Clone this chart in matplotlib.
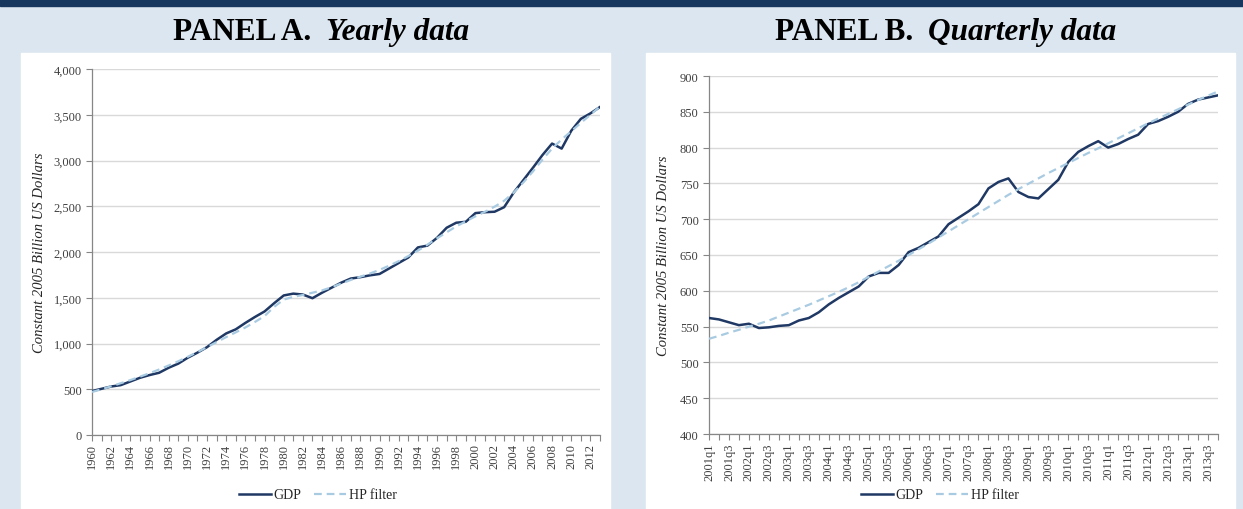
import matplotlib
matplotlib.use("Agg")
import matplotlib.pyplot as plt
from matplotlib.patches import Rectangle
from matplotlib.lines import Line2D
from matplotlib.ticker import StrMethodFormatter

plt.rcParams['font.family'] = ['Liberation Serif', 'DejaVu Serif']

# Panel A: yearly GDP (constant 2005 billion US$) and HP trend
years = list(range(1960, 2014))
gdp_yearly = [480, 505, 530, 545, 585, 625, 655, 680, 735, 780,
              845, 900, 960, 1040, 1110, 1155, 1225, 1290, 1350, 1440,
              1525, 1545, 1535, 1495, 1555, 1610, 1665, 1710, 1725, 1745,
              1760, 1820, 1880, 1940, 2050, 2070, 2155, 2265, 2320, 2330,
              2425, 2435, 2440, 2490, 2650, 2785, 2920, 3060, 3185, 3130,
              3325, 3455, 3515, 3585]
hp_yearly = [470, 500, 532, 566, 600, 637, 675, 716, 760, 806,
             855, 906, 960, 1015, 1070, 1122, 1175, 1235, 1300, 1400,
             1480, 1510, 1530, 1555, 1580, 1615, 1655, 1695, 1730, 1765,
             1805, 1850, 1900, 1955, 2015, 2080, 2150, 2215, 2280, 2335,
             2390, 2440, 2495, 2560, 2650, 2760, 2880, 3010, 3130, 3230,
             3320, 3410, 3500, 3590]

# Panel B: quarterly GDP and HP trend, 2001q1 - 2013q4
quarters = [f"{y}q{q}" for y in range(2001, 2014) for q in range(1, 5)]
gdp_q = [562, 560, 556, 552, 554, 548, 549, 551, 552, 558.5,
         562, 570, 581, 590, 598, 606, 620, 625, 625, 636,
         654, 660, 668, 676, 693, 702, 711, 721, 743, 752,
         757, 738, 731, 729, 742, 755, 780, 794, 802, 809,
         800, 805, 812, 818, 833, 837, 843, 850, 861, 867,
         870, 873]
hp_q = [533, 537, 541.5, 545.5, 550, 554, 558.5, 564, 569.5, 575,
        580.5, 586.5, 592.5, 598.5, 605, 612, 619.5, 627, 634.5, 642,
        650, 658, 666, 674.5, 683, 691.5, 700, 708.5, 717, 725.5,
        734, 742, 749.5, 757, 764.5, 771.5, 778.5, 785.5, 792.5, 799,
        806, 813, 820, 827, 834, 840.5, 847, 853.5, 860, 866.5,
        872.5, 878.5]

W, H = 1243, 510
def fx(px):
    return px / W
def fy(py):
    return 1 - py / H

navy = '#1f3864'
light = '#a9cbe2'
bg = '#dce6f0'
dash = (0, (3.5, 2.2))

fig = plt.figure(figsize=(W / 100, H / 100), dpi=100)
fig.patch.set_facecolor(bg)

# top band and white panels
fig.add_artist(Rectangle((0, fy(7)), 1, 7 / H, transform=fig.transFigure,
                         color='#17375e', zorder=0))
fig.add_artist(Rectangle((fx(21), 0), (610 - 21) / W, (H - 54) / H,
                         transform=fig.transFigure, color='white', zorder=0))
fig.add_artist(Rectangle((fx(646), 0), (1235 - 646) / W, (H - 54) / H,
                         transform=fig.transFigure, color='white', zorder=0))


def style_axis(ax, labels, ymin, ymax, ystep):
    n = len(labels)
    ax.set_xlim(0, n - 1)
    ax.set_ylim(ymin, ymax)
    ax.set_yticks(range(ymin, ymax + 1, ystep))
    ax.yaxis.set_major_formatter(StrMethodFormatter('{x:,.0f}'))
    ax.set_xticks(range(n))
    ax.set_xticklabels([lab if i % 2 == 0 else '' for i, lab in enumerate(labels)],
                       rotation=90)
    ax.tick_params(axis='both', colors='#868686', labelcolor='#404040',
                   labelsize=9, length=4, width=0.8, direction='out')
    ax.tick_params(axis='x', pad=2)
    for s in ['top', 'right']:
        ax.spines[s].set_visible(False)
    for s in ['left', 'bottom']:
        ax.spines[s].set_color('#868686')
        ax.spines[s].set_linewidth(0.9)
    ax.grid(axis='y', color='#d9d9d9', linewidth=1.0)
    ax.set_axisbelow(True)
    ax.set_facecolor('white')


ax1 = fig.add_axes([fx(92), fy(436), 508 / W, 366 / H])
ax1.plot(range(len(years)), gdp_yearly, color=navy, lw=1.8, zorder=3)
ax1.plot(range(len(years)), hp_yearly, color=light, lw=1.6,
         linestyle=dash, zorder=4)
style_axis(ax1, [str(y) for y in years], 0, 4000, 500)

ax2 = fig.add_axes([fx(709), fy(435), 509 / W, 358 / H])
ax2.plot(range(len(quarters)), gdp_q, color=navy, lw=1.8, zorder=3)
ax2.plot(range(len(quarters)), hp_q, color=light, lw=1.6,
         linestyle=dash, zorder=4)
style_axis(ax2, quarters, 400, 900, 50)

ylab = 'Constant 2005 Billion US Dollars'
fig.text(fx(40), fy(253), ylab, rotation=90, ha='center', va='center',
         fontsize=10.5, style='italic', color='#262626')
fig.text(fx(663), fy(256), ylab, rotation=90, ha='center', va='center',
         fontsize=10.5, style='italic', color='#262626')

# titles
title_kw = dict(va='baseline', fontsize=22.5, fontweight='bold')
fig.text(fx(311), fy(40), 'PANEL A.', ha='right', **title_kw)
fig.text(fx(326), fy(40), 'Yearly data', ha='left', style='italic', **title_kw)
fig.text(fx(913), fy(40), 'PANEL B.', ha='right', **title_kw)
fig.text(fx(928), fy(40), 'Quarterly data', ha='left', style='italic', **title_kw)

handles = [Line2D([], [], color=navy, lw=1.8),
           Line2D([], [], color=light, lw=1.6, linestyle=dash)]
for cx in (318, 940):
    fig.legend(handles, ['GDP', 'HP filter'], loc='center',
               bbox_to_anchor=(fx(cx), fy(496)), ncol=2, frameon=False,
               fontsize=10, handlelength=2.3, handletextpad=0.2,
               columnspacing=0.9, labelcolor='#262626')

fig.savefig('out.png', dpi=100, facecolor=bg)
